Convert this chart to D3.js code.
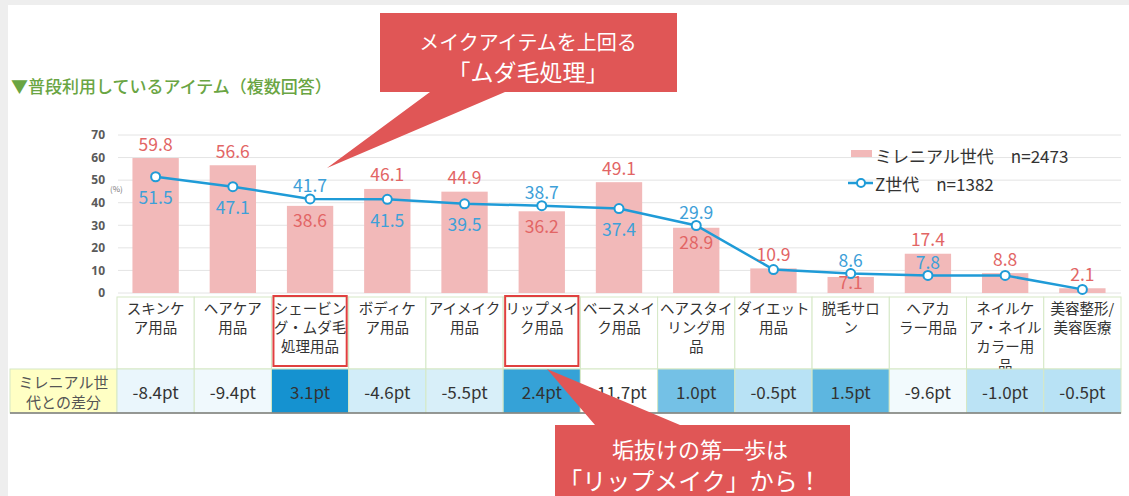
<!DOCTYPE html>
<html>
<head>
<meta charset="utf-8">
<script src="https://cdn.jsdelivr.net/npm/d3@7"></script>
<style>
body { margin: 0; background: #eeeeee; font-family: "Noto Sans CJK JP", "Noto Sans", sans-serif; }
svg { display: block; }
</style>
</head>
<body>
<svg id="chart"></svg>
<script>
let w = 1129
let h = 496

// data
let categories = [
  "スキンケ\nア用品", "ヘアケア\n用品", "シェービン\nグ・ムダ毛\n処理用品", "ボディケ\nア用品",
  "アイメイク\n用品", "リップメイ\nク用品", "ベースメイ\nク用品", "ヘアスタイ\nリング用\n品",
  "ダイエット\n用品", "脱毛サロ\nン", "ヘアカ\nラー用品", "ネイルケ\nア・ネイル\nカラー用\n品", "美容整形/\n美容医療"
]
let millennial = [59.8, 56.6, 38.6, 46.1, 44.9, 36.2, 49.1, 28.9, 10.9, 7.1, 17.4, 8.8, 2.1]
let genZ = [51.5, 47.1, 41.7, 41.5, 39.5, 38.7, 37.4, 29.9, 10.4, 8.6, 7.8, 7.8, 1.6]
let diffs = [-8.4, -9.4, 3.1, -4.6, -5.5, 2.4, -11.7, 1.0, -0.5, 1.5, -9.6, -1.0, -0.5]
let yTicks = [0, 10, 20, 30, 40, 50, 60, 70]
let seriesNames = ["ミレニアル世代　n=2473", "Z世代　n=1382"]
let highlighted = [2, 5]

// where each value label sits
let mLabelPos = ['out', 'out', 'in', 'out', 'out', 'in', 'out', 'in', 'out', 'top', 'out', 'out', 'out']
let zLabelPos = ['below', 'below', 'above', 'below', 'below', 'above', 'below', 'above', 'none', 'above', 'above', 'none', 'none']

let barColor = '#f2b9b9'
let redText = '#e26565'
let lineColor = '#1f9bd7'
let blueText = '#3ea0d8'
let cellBorder = '#d5e8c6'

let svg = d3.select('#chart').attr('width', w).attr('height', h)

svg.append('rect').attr('x', 8).attr('y', 5).attr('width', w - 8).attr('height', h - 5).attr('fill', '#fff')

let x = d3.scaleBand().domain(d3.range(categories.length)).range([117, 1121]).padding(0)
let y = d3.scaleLinear().domain([0, 70]).range([293, 135])
let barW = x.bandwidth() * 0.6

// title
svg.append('text')
  .attr('x', 11).attr('y', 93)
  .attr('fill', '#6aa543')
  .attr('font-size', 17)
  .attr('font-weight', 500)
  .text('▼普段利用しているアイテム（複数回答）')

// gridlines + y axis
svg.append('g').selectAll('line')
  .data(yTicks)
  .join('line')
  .attr('x1', 118).attr('x2', 1121)
  .attr('y1', d => y(d)).attr('y2', d => y(d))
  .attr('stroke', '#e4e4e4').attr('stroke-width', 1)

let yAxis = svg.append('g')
  .attr('transform', 'translate(108,0)')
  .call(d3.axisLeft(y).tickValues(yTicks).tickSize(0).tickPadding(3))
yAxis.select('.domain').remove()
yAxis.selectAll('text')
  .attr('font-size', 12).attr('font-weight', 'bold').attr('fill', '#5a5a5a')
  .attr('font-family', '"Noto Sans", sans-serif')

svg.append('text').attr('x', 110).attr('y', 192).attr('font-size', 8).attr('fill', '#777').text('(%)')

// bars
svg.append('g').selectAll('rect')
  .data(millennial)
  .join('rect')
  .attr('x', (d, i) => x(i) + (x.bandwidth() - barW) / 2)
  .attr('y', d => y(d))
  .attr('width', barW)
  .attr('height', d => y(0) - y(d))
  .attr('fill', barColor)

// Z line
let line = d3.line().x((d, i) => x(i) + x.bandwidth() / 2).y(d => y(d))
svg.append('path')
  .datum(genZ)
  .attr('d', line)
  .attr('fill', 'none')
  .attr('stroke', lineColor)
  .attr('stroke-width', 2.5)

svg.append('g').selectAll('circle')
  .data(genZ)
  .join('circle')
  .attr('cx', (d, i) => x(i) + x.bandwidth() / 2)
  .attr('cy', d => y(d))
  .attr('r', 4.5)
  .attr('fill', '#fff')
  .attr('stroke', lineColor)
  .attr('stroke-width', 2)

// value labels
let mOffset = { out: -15, in: 14, top: 5 }
svg.append('g').selectAll('text')
  .data(millennial)
  .join('text')
  .attr('x', (d, i) => x(i) + x.bandwidth() / 2)
  .attr('y', (d, i) => y(d) + mOffset[mLabelPos[i]])
  .attr('text-anchor', 'middle')
  .attr('dominant-baseline', 'central')
  .attr('font-size', 17.5)
  .attr('fill', redText)
  .text(d => d.toFixed(1))

let zOffset = { above: -14, below: 20 }
svg.append('g').selectAll('text')
  .data(genZ.map((v, i) => ({ v, i })).filter(d => zLabelPos[d.i] !== 'none'))
  .join('text')
  .attr('x', d => x(d.i) + x.bandwidth() / 2)
  .attr('y', d => y(d.v) + zOffset[zLabelPos[d.i]])
  .attr('text-anchor', 'middle')
  .attr('dominant-baseline', 'central')
  .attr('font-size', 17.5)
  .attr('fill', blueText)
  .text(d => d.v.toFixed(1))

// legend
let lg = svg.append('g')
lg.append('rect').attr('x', 851).attr('y', 150).attr('width', 21).attr('height', 7).attr('fill', barColor)
lg.append('text').attr('x', 875).attr('y', 155).attr('dominant-baseline', 'central')
  .attr('font-size', 17).attr('fill', '#333').text(seriesNames[0])
lg.append('line').attr('x1', 848).attr('x2', 873).attr('y1', 183).attr('y2', 183)
  .attr('stroke', lineColor).attr('stroke-width', 2.5)
lg.append('circle').attr('cx', 861).attr('cy', 183).attr('r', 4)
  .attr('fill', '#fff').attr('stroke', lineColor).attr('stroke-width', 2)
lg.append('text').attr('x', 875).attr('y', 183).attr('dominant-baseline', 'central')
  .attr('font-size', 17).attr('fill', '#333').text(seriesNames[1])

// category row
let catTop = 297, catBottom = 369, diffBottom = 413
let catCells = svg.append('g').selectAll('g')
  .data(categories)
  .join('g')
  .attr('transform', (d, i) => `translate(${x(i)},0)`)

catCells.append('rect')
  .attr('x', 0).attr('y', catTop)
  .attr('width', x.bandwidth()).attr('height', catBottom - catTop)
  .attr('fill', '#fff').attr('stroke', cellBorder)

catCells.append('text')
  .attr('text-anchor', 'middle')
  .attr('font-size', 14.5)
  .attr('fill', '#333')
  .selectAll('tspan')
  .data(d => d.split('\n'))
  .join('tspan')
  .attr('x', x.bandwidth() / 2)
  .attr('y', (d, j) => 307 + j * 19)
  .attr('dominant-baseline', 'central')
  .text(d => d)

// difference row
let diffColor = d3.scaleLinear().domain([-11.7, -0.5, 3.1]).range(['#ffffff', '#b8e2f5', '#1592d0'])

svg.append('rect').attr('x', 10).attr('y', catBottom).attr('width', 107).attr('height', diffBottom - catBottom)
  .attr('fill', '#ffffc4').attr('stroke', cellBorder)
svg.append('text').attr('text-anchor', 'middle').attr('font-size', 15).attr('fill', '#555')
  .selectAll('tspan')
  .data(['ミレニアル世', '代との差分'])
  .join('tspan')
  .attr('x', 63.5)
  .attr('y', (d, j) => 381 + j * 20)
  .attr('dominant-baseline', 'central')
  .text(d => d)

let diffCells = svg.append('g').selectAll('g')
  .data(diffs)
  .join('g')
  .attr('transform', (d, i) => `translate(${x(i)},0)`)

diffCells.append('rect')
  .attr('x', 0).attr('y', catBottom)
  .attr('width', x.bandwidth()).attr('height', diffBottom - catBottom)
  .attr('fill', d => diffColor(d)).attr('stroke', cellBorder)

diffCells.append('text')
  .attr('x', x.bandwidth() / 2).attr('y', (catBottom + diffBottom) / 2)
  .attr('text-anchor', 'middle').attr('dominant-baseline', 'central')
  .attr('font-size', 17).attr('fill', '#333')
  .text(d => d.toFixed(1) + 'pt')

svg.append('line').attr('x1', 10).attr('x2', 1121).attr('y1', diffBottom).attr('y2', diffBottom)
  .attr('stroke', '#7a7a7a').attr('stroke-width', 1.5)

// red boxes around highlighted categories
svg.append('g').selectAll('rect')
  .data(highlighted)
  .join('rect')
  .attr('x', d => x(d) + 2).attr('y', 296)
  .attr('width', x.bandwidth() - 4).attr('height', 70)
  .attr('fill', 'none').attr('stroke', '#e0403f').attr('stroke-width', 2)

// callouts
let callRed = '#e05656'
svg.append('path')
  .attr('d', 'M380,13H677V92H505L327,168L430,92H380Z')
  .attr('fill', callRed)
svg.append('text').attr('x', 528).attr('y', 41).attr('text-anchor', 'middle').attr('dominant-baseline', 'central')
  .attr('font-size', 20).attr('fill', '#fff').text('メイクアイテムを上回る')
svg.append('text').attr('x', 528).attr('y', 71).attr('text-anchor', 'middle').attr('dominant-baseline', 'central')
  .attr('font-size', 23).attr('fill', '#fff').text('「ムダ毛処理」')

svg.append('path')
  .attr('d', 'M555,425H595L547,369L680,425H850V496H555Z')
  .attr('fill', callRed)
svg.append('text').attr('x', 700).attr('y', 448).attr('text-anchor', 'middle').attr('dominant-baseline', 'central')
  .attr('font-size', 22).attr('fill', '#fff').text('垢抜けの第一歩は')
svg.append('text').attr('x', 690).attr('y', 479).attr('text-anchor', 'middle').attr('dominant-baseline', 'central')
  .attr('font-size', 24).attr('fill', '#fff').text('「リップメイク」から！')
</script>
</body>
</html>
